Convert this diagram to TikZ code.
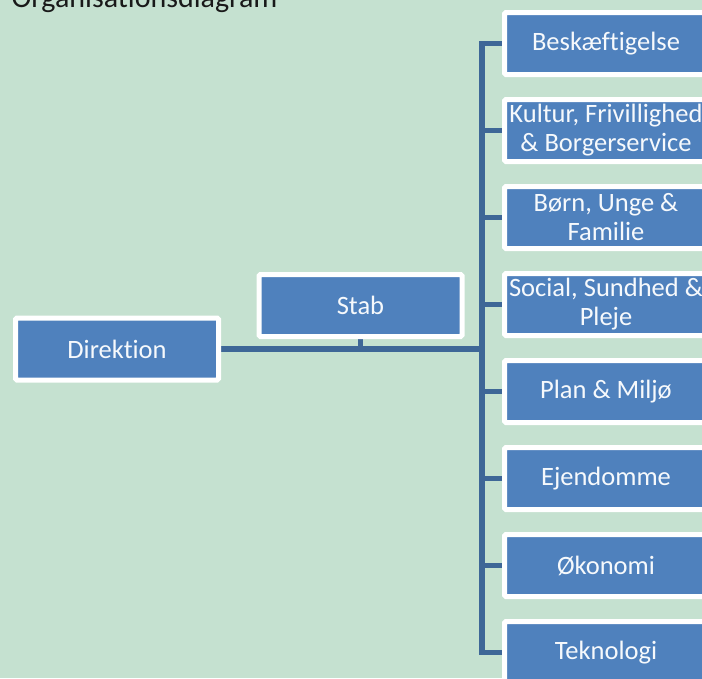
\documentclass[tikz,border=0pt]{standalone}
\usepackage{fontspec}
\setmainfont[Ligatures=NoCommon]{Carlito}
\usetikzlibrary{positioning,backgrounds}

\definecolor{bggreen}{HTML}{C5E1D0}
\definecolor{unitblue}{HTML}{4F81BD}
\definecolor{linkblue}{HTML}{3E6797}

\begin{document}
\begin{tikzpicture}[x=1pt, y=-1pt,
    unit/.style={draw=white, line width=5pt, fill=unitblue, text=white!95!unitblue,
        rounded corners=1.5pt, minimum width=203pt, minimum height=62pt,
        inner sep=0pt, align=center, font=\fontsize{26.5}{29}\selectfont},
    link/.style={linkblue, line width=5.5pt}]
    \useasboundingbox (0, 0) rectangle (702, 678);

    \node (title) [anchor=base west, font=\fontsize{30}{32}\selectfont, text=black!90]
        at (8, 7) {Organisationsdiagram};

    \node (dir) [unit] at (117, 349) {Direktion};
    \node (stab) [unit] at (360.5, 305.5) {Stab};
    \coordinate (bus) at (482, 349);

    % right column
    \foreach \txt [count=\i] in {Beskæftigelse,
            {Kultur, Frivillighed\\ \& Borgerservice},
            {Børn, Unge \&\\ Familie},
            {Social, Sundhed \&\\ Pleje},
            Plan \& Miljø, Ejendomme, Økonomi, Teknologi}
        \node (u\i) [unit] at (606, 43.5 + 87*\i - 87) {\txt};

    \begin{scope}[on background layer]
        \fill[bggreen] (0, 0) rectangle (702, 678);
        \draw[link] (dir) -- (bus); % main line
        \draw[link] (stab) -- (stab |- bus); % stab stem
        \draw[link] (u1.west) -| (bus) |- (u8.west);
        \foreach \i in {2,...,7}
            \draw[link] (u\i.west -| bus) -- (u\i.west);
    \end{scope}
\end{tikzpicture}
\end{document}
